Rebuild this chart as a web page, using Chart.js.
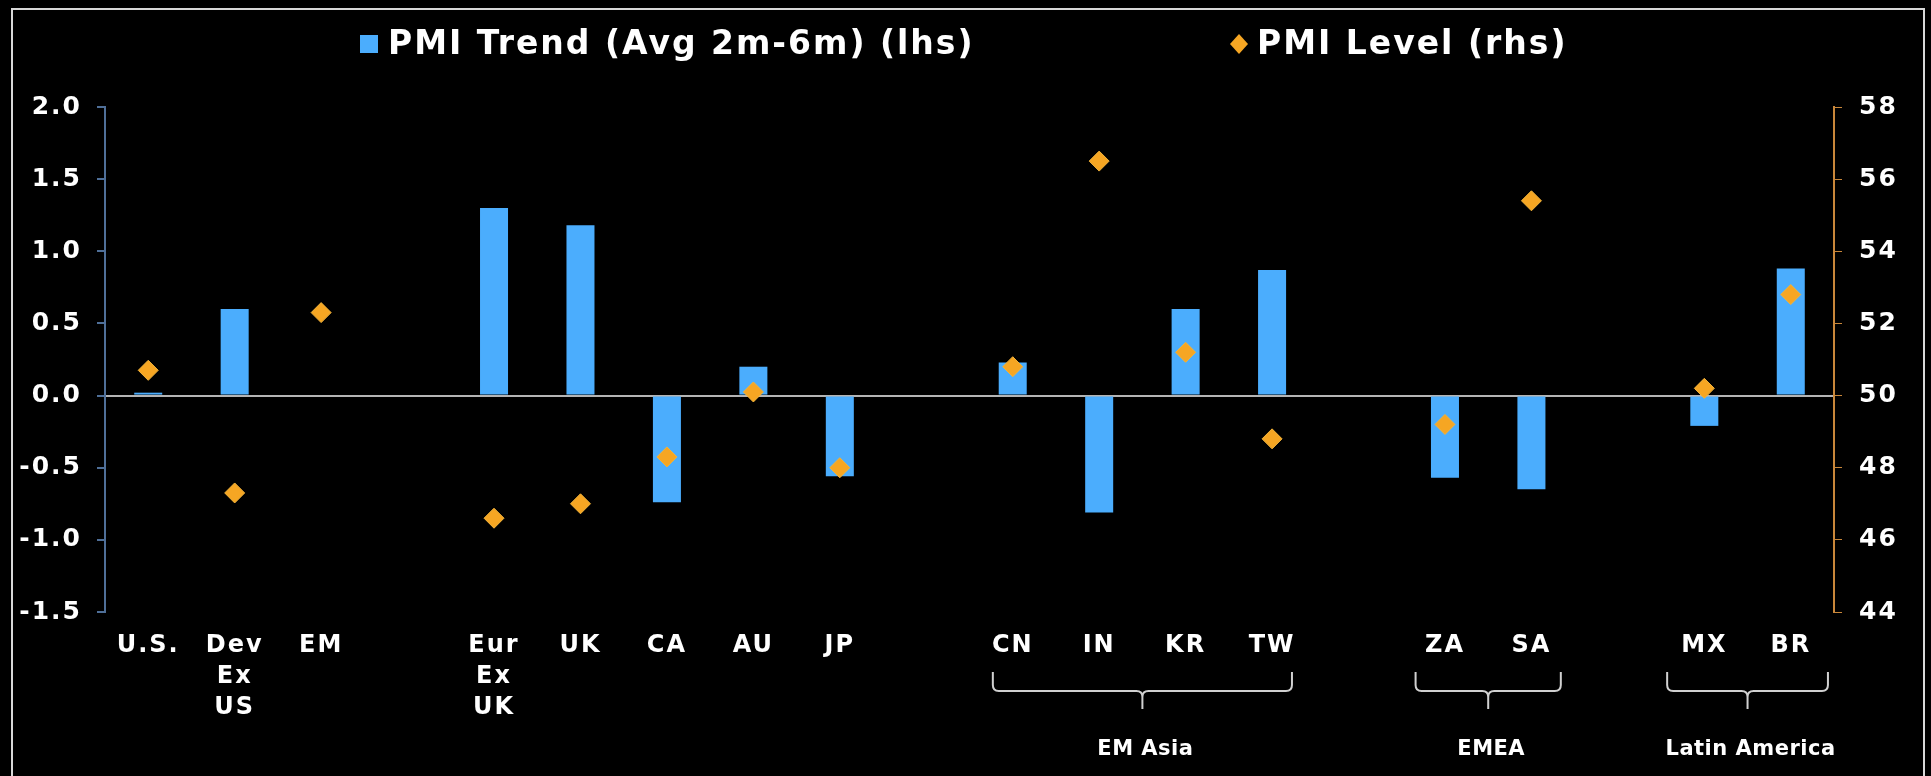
<!DOCTYPE html>
<html>
<head>
<meta charset="utf-8">
<script src="https://cdn.jsdelivr.net/npm/chart.js@4.4.0/dist/chart.umd.min.js"></script>
<style>
  html, body { margin: 0; padding: 0; background: #000; }
  #wrap { position: relative; width: 1931px; height: 776px; }
</style>
</head>
<body>
<div id="wrap"><canvas id="pmiChart" width="1931" height="776"></canvas></div>
<script>
// categories (blank slots leave gaps between the regions)
var categories = ['U.S.', ['Dev', 'Ex', 'US'], 'EM', '', ['Eur', 'Ex', 'UK'], 'UK', 'CA', 'AU', 'JP', '',
                  'CN', 'IN', 'KR', 'TW', '', 'ZA', 'SA', '', 'MX', 'BR'];
var pmiTrend = [0.02, 0.60, null, null, 1.30, 1.18, -0.74, 0.20, -0.56, null,
                0.23, -0.81, 0.60, 0.87, null, -0.57, -0.65, null, -0.21, 0.88];
var pmiLevel = [50.7, 47.3, 52.3, null, 46.6, 47.0, 48.3, 50.1, 48.0, null,
                50.8, 56.5, 51.2, 48.8, null, 49.2, 55.4, null, 50.2, 52.8];
var lhsRange = [-1.5, 2.0, 0.5];   // min, max, step
var rhsRange = [44, 58, 2];
var groupLabels = ['EM Asia', 'EMEA', 'Latin America'];
var groupFrom = ['CN', 'ZA', 'MX'];
var groupTo = ['TW', 'SA', 'BR'];

var FONT = '"DejaVu Sans", Verdana, sans-serif';
var BLUE = '#4badfd';
var ORANGE = '#f6a623';

// black background + white frame; the original type is a bit wider, so space the letters out
var framePlugin = {
    id: 'frame',
    beforeDraw: function (chart) {
        var ctx = chart.ctx;
        ctx.save();
        ctx.fillStyle = '#000';
        ctx.fillRect(0, 0, chart.width, chart.height);
        ctx.strokeStyle = '#d8d8d8';
        ctx.lineWidth = 2;
        ctx.strokeRect(12, 9, 1912, 820);
        ctx.restore();
        ctx.letterSpacing = '2px';
    }
};

// legend drawn by hand so the two entries sit where the original has them
var legendPlugin = {
    id: 'manualLegend',
    afterDraw: function (chart) {
        var ctx = chart.ctx;
        var bars = chart.data.datasets[1];
        var pts = chart.data.datasets[0];
        ctx.save();
        ctx.letterSpacing = '2px';
        ctx.font = 'bold 33px ' + FONT;
        ctx.textBaseline = 'alphabetic';
        ctx.textAlign = 'left';

        ctx.fillStyle = bars.backgroundColor;
        ctx.fillRect(360, 35, 18, 18);
        ctx.fillStyle = '#fff';
        ctx.fillText(bars.label, 388, 54);

        ctx.fillStyle = pts.backgroundColor;
        ctx.beginPath();
        ctx.moveTo(1239, 34);
        ctx.lineTo(1248, 44);
        ctx.lineTo(1239, 54);
        ctx.lineTo(1230, 44);
        ctx.closePath();
        ctx.fill();
        ctx.fillStyle = '#fff';
        ctx.fillText(pts.label, 1257, 54);
        ctx.restore();
    }
};

// curly brackets + region names under the x axis
var bracketPlugin = {
    id: 'regionBrackets',
    afterDraw: function (chart, args, opts) {
        var ctx = chart.ctx;
        var x = chart.scales.x;
        var base = chart.chartArea.bottom;
        var yTop = base + 60, yMid = base + 79, yTip = base + 97, r = 6;
        ctx.save();
        ctx.letterSpacing = '0.5px';
        ctx.strokeStyle = '#d0d0d0';
        ctx.lineWidth = 2;
        ctx.fillStyle = '#fff';
        ctx.font = 'bold 21px ' + FONT;
        ctx.textAlign = 'center';
        ctx.textBaseline = 'middle';
        for (var i = 0; i < groupLabels.length; i++) {
            var a = categories.indexOf(groupFrom[i]);
            var b = categories.indexOf(groupTo[i]);
            var x0 = x.getPixelForValue(a - opts.pad[i]);
            var x1 = x.getPixelForValue(b + opts.pad[i]);
            var xc = (x0 + x1) / 2;
            ctx.beginPath();
            ctx.moveTo(x0, yTop);
            ctx.lineTo(x0, yMid - r);
            ctx.quadraticCurveTo(x0, yMid, x0 + r, yMid);
            ctx.lineTo(xc - r, yMid);
            ctx.quadraticCurveTo(xc, yMid, xc, yMid + r);
            ctx.lineTo(xc, yTip);
            ctx.moveTo(x1, yTop);
            ctx.lineTo(x1, yMid - r);
            ctx.quadraticCurveTo(x1, yMid, x1 - r, yMid);
            ctx.lineTo(xc + r, yMid);
            ctx.quadraticCurveTo(xc, yMid, xc, yMid + r);
            ctx.stroke();
            ctx.fillText(groupLabels[i], xc + 3, base + 138);
        }
        ctx.restore();
    }
};

var ctx = document.getElementById('pmiChart').getContext('2d');
new Chart(ctx, {
    data: {
        labels: categories,
        datasets: [{
            type: 'line',
            label: 'PMI Level (rhs)',
            data: pmiLevel,
            yAxisID: 'y1',
            showLine: false,
            pointStyle: 'rectRot',
            pointRadius: 10,
            backgroundColor: ORANGE,
            borderColor: '#f2b33a',
            borderWidth: 1,
            order: 0
        }, {
            type: 'bar',
            label: 'PMI Trend (Avg 2m-6m) (lhs)',
            data: pmiTrend,
            yAxisID: 'y',
            backgroundColor: BLUE,
            borderWidth: 0,
            categoryPercentage: 1,
            barPercentage: 0.324,
            order: 1
        }]
    },
    options: {
        responsive: false,
        animation: false,
        layout: { padding: { top: 107, left: 0, right: 0, bottom: 0 } },
        plugins: {
            legend: { display: false },
            tooltip: { enabled: false },
            regionBrackets: { pad: [0.23, 0.34, 0.43] }
        },
        scales: {
            x: {
                offset: true,
                grid: { display: false, drawTicks: false },
                border: { display: false },
                ticks: {
                    color: '#fff',
                    font: { family: FONT, size: 24, weight: 'bold', lineHeight: 1.3 },
                    padding: 18,
                    maxRotation: 0,
                    autoSkip: false
                },
                afterFit: function (s) { s.height = 164; }
            },
            y: {
                position: 'left',
                min: lhsRange[0],
                max: lhsRange[1],
                grid: {
                    drawOnChartArea: true,
                    color: function (c) { return c.tick && c.tick.value === 0 ? '#b4b4b4' : 'rgba(0,0,0,0)'; },
                    lineWidth: 2,
                    tickColor: '#4f6f98',
                    tickLength: 8
                },
                border: { display: true, color: '#4f6f98', width: 2 },
                ticks: {
                    stepSize: lhsRange[2],
                    color: '#fff',
                    font: { family: FONT, size: 25, weight: 'bold' },
                    padding: 15,
                    callback: function (v) { return v.toFixed(1); }
                },
                afterFit: function (s) { s.width = 105; }
            },
            y1: {
                position: 'right',
                min: rhsRange[0],
                max: rhsRange[1],
                grid: {
                    drawOnChartArea: false,
                    tickColor: '#c9873a',
                    tickLength: 8
                },
                border: { display: true, color: '#c9873a', width: 2 },
                ticks: {
                    stepSize: rhsRange[2],
                    color: '#fff',
                    font: { family: FONT, size: 25, weight: 'bold' },
                    padding: 17
                },
                afterFit: function (s) { s.width = 97; }
            }
        }
    },
    plugins: [framePlugin, legendPlugin, bracketPlugin]
});
</script>
</body>
</html>
